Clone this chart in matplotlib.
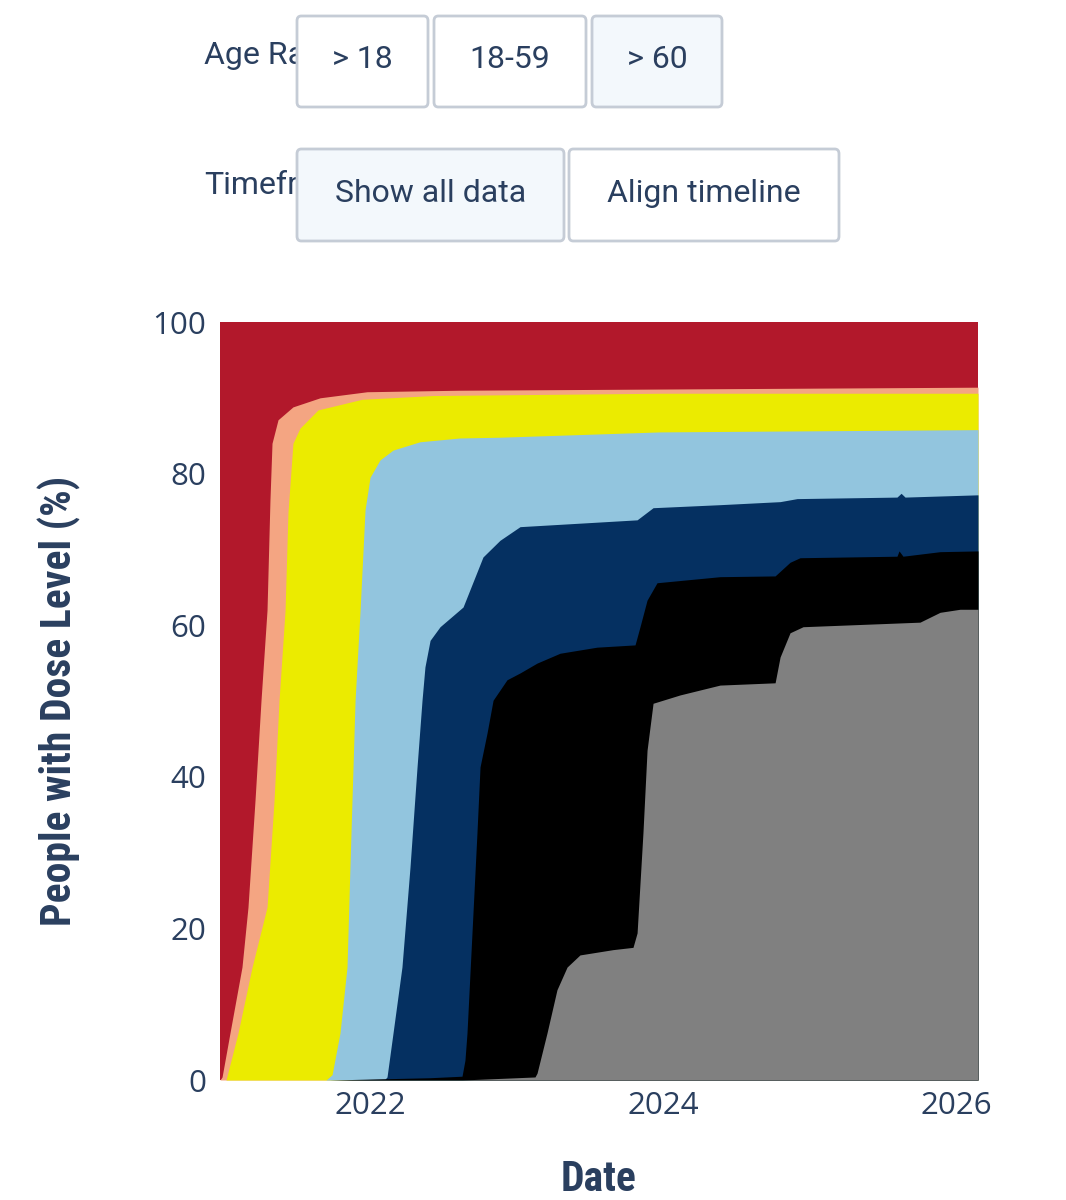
import matplotlib
matplotlib.use("Agg")
import matplotlib.pyplot as plt
from matplotlib.patches import FancyBboxPatch, Rectangle
from matplotlib import font_manager as fm
import numpy as np

# ---------------- data (x in decimal years, y in %) ----------------
x_start, x_end = 2020.976, 2026.15

dose1_x = [2020.976, 2020.990, 2021.044, 2021.126, 2021.167, 2021.215, 2021.256, 2021.297,
           2021.317, 2021.331, 2021.372, 2021.474, 2021.659, 2021.980, 2022.614, 2026.150]
dose1_y = [0, 0.4, 6.2, 14.9, 22.8, 36.9, 50.1, 62.0, 76.5, 84.0, 87.1, 88.8, 90.0, 90.8, 91.0, 91.4]

dose2_x = [2021.017, 2021.099, 2021.195, 2021.297, 2021.345, 2021.379, 2021.420, 2021.440,
           2021.474, 2021.522, 2021.645, 2021.945, 2022.430, 2023.980, 2026.150]
dose2_y = [0, 6.2, 14.9, 22.8, 36.9, 50.1, 61.9, 74.9, 84.0, 86.0, 88.4, 89.8, 90.3, 90.6, 90.6]

dose3_x = [2021.700, 2021.741, 2021.795, 2021.843, 2021.863, 2021.898, 2021.932, 2021.966,
           2022.000, 2022.068, 2022.157, 2022.341, 2022.614, 2022.887, 2023.980, 2026.150]
dose3_y = [0, 0.7, 6.2, 14.9, 28.1, 50.1, 61.9, 75.2, 79.5, 81.8, 83.1, 84.2, 84.7, 84.8, 85.5, 85.8]

dose4_x = [2021.727, 2022.102, 2022.116, 2022.157, 2022.218, 2022.273, 2022.321, 2022.355,
           2022.375, 2022.410, 2022.478, 2022.635, 2022.771, 2022.887, 2023.024, 2023.823,
           2023.932, 2024.389, 2024.799, 2024.915, 2025.597, 2025.625, 2025.652, 2026.150]
dose4_y = [0, 0.1, 0.4, 6.2, 14.9, 28.1, 41.3, 50.1, 54.5, 58.0, 59.8, 62.4, 69.0, 71.2, 73.0,
           73.9, 75.5, 75.9, 76.3, 76.7, 76.9, 77.4, 76.9, 77.2]

dose5_x = [2021.727, 2022.410, 2022.628, 2022.648, 2022.662, 2022.696, 2022.730, 2022.751,
           2022.799, 2022.840, 2022.935, 2023.024, 2023.140, 2023.297, 2023.549, 2023.809,
           2023.843, 2023.891, 2023.959, 2024.389, 2024.765, 2024.867, 2024.935, 2025.597,
           2025.611, 2025.638, 2025.891, 2026.150]
dose5_y = [0, 0.3, 0.5, 2.6, 6.2, 19.4, 32.6, 41.3, 45.8, 50.1, 52.8, 53.7, 55.0, 56.3, 57.1,
           57.4, 59.8, 63.3, 65.6, 66.4, 66.5, 68.3, 68.9, 69.1, 69.8, 69.1, 69.7, 69.8]

dose6_x = [2022.628, 2023.126, 2023.140, 2023.208, 2023.276, 2023.345, 2023.433, 2023.659,
           2023.795, 2023.823, 2023.863, 2023.891, 2023.932, 2024.116, 2024.389, 2024.765,
           2024.799, 2024.867, 2024.956, 2025.754, 2025.891, 2026.027, 2026.150]
dose6_y = [0, 0.4, 0.9, 6.2, 11.9, 14.9, 16.5, 17.2, 17.5, 19.4, 32.6, 43.5, 49.7, 50.8, 52.1,
           52.4, 55.8, 59.0, 59.8, 60.4, 61.7, 62.1, 62.1]

layers = [
    (dose1_x, dose1_y, "#f4a582"),
    (dose2_x, dose2_y, "#ebeb00"),
    (dose3_x, dose3_y, "#92c5de"),
    (dose4_x, dose4_y, "#053061"),
    (dose5_x, dose5_y, "#000000"),
    (dose6_x, dose6_y, "#808080"),
]
unvacc_color = "#b2182b"

x_ticks = [2022, 2024, 2026]
x_tick_labels = ["2022", "2024", "2026"]
y_ticks = [0, 20, 40, 60, 80, 100]

age_buttons = ["> 18", "18-59", "> 60"]
time_buttons = ["Show all data", "Align timeline"]

# ---------------- fonts ----------------
def find_font(cands):
    files = fm.findSystemFonts()
    for c in cands:
        for f in files:
            if c.lower() in f.lower().replace(" ", ""):
                return f
    return None

cond_bold = find_font(["RobotoCondensed-Bold", "LiberationSansNarrow-Bold.ttf", "DejaVuSansCondensed-Bold.ttf"])
title_fp = fm.FontProperties(fname=cond_bold, size=30) if cond_bold else fm.FontProperties(family="Roboto", weight="bold", size=25)

text_color = "#2a3f5f"

# ---------------- figure ----------------
W, H = 1066, 1200
fig = plt.figure(figsize=(W / 100, H / 100), dpi=100)
fig.patch.set_facecolor("white")

ax = fig.add_axes([220 / W, 1 - 1080 / H, 758 / W, 758 / H])
ax.fill_between([x_start, x_end], 0, 100, color=unvacc_color, lw=0)
for xs, ys, col in layers:
    ax.fill_between(xs, 0, ys, color=col, lw=0)

ax.set_xlim(x_start, x_end)
ax.set_ylim(0, 100)
for s in ax.spines.values():
    s.set_visible(False)
ax.set_xticks(x_ticks)
ax.set_xticklabels(x_tick_labels)
ax.set_yticks(y_ticks)
ax.tick_params(axis="y", length=0, labelsize=22.5, labelcolor=text_color, pad=10)
ax.tick_params(axis="x", length=0, labelsize=22.5, labelcolor=text_color, pad=8)
for lab in ax.get_xticklabels() + ax.get_yticklabels():
    lab.set_fontfamily("Open Sans")

ax.set_ylabel("People with Dose Level (%)", fontproperties=title_fp, color=text_color)
ax.yaxis.set_label_coords((81 - 220) / 758, 0.5)
ax.set_xlabel("Date", fontproperties=title_fp, color=text_color)
ax.xaxis.set_label_coords(0.5, (1080 - 1159) / 758)

# ---------------- controls ----------------
def fx(px):
    return px / W

def fy(py):
    return 1 - py / H

# labels are partly hidden behind the buttons, as in the reference
clip_rect = Rectangle((0, 0), fx(297), 1, transform=fig.transFigure, visible=False)
fig.patches.append(clip_rect)
for ly, txt in [(55, "Age Range"), (186, "Timeframe")]:
    t = fig.text(fx(204), fy(ly), txt, fontsize=23, family="Roboto", color=text_color,
                 va="center", ha="left", zorder=1)
    t.set_clip_path(clip_rect)

def button(x0, y0, x1, y1, label, selected):
    fc = "#f3f8fc" if selected else "white"
    p = FancyBboxPatch((fx(x0), fy(y1)), fx(x1) - fx(x0), fy(y0) - fy(y1),
                       boxstyle="round,pad=0,rounding_size=0.004",
                       transform=fig.transFigure, facecolor=fc, edgecolor="#c5ccd6",
                       linewidth=2, zorder=2)
    fig.patches.append(p)
    fig.text(fx((x0 + x1) / 2), fy((y0 + y1) / 2 - 2), label, fontsize=23, family="Roboto",
             color=text_color, ha="center", va="center", zorder=3)

age_boxes = [(297, 16, 428, 107), (434, 16, 586, 107), (592, 16, 722, 107)]
for (b, lab, sel) in zip(age_boxes, age_buttons, [False, False, True]):
    button(*b, lab, sel)
time_boxes = [(297, 149, 564, 241), (569, 149, 839, 241)]
for (b, lab, sel) in zip(time_boxes, time_buttons, [True, False]):
    button(*b, lab, sel)

fig.savefig("out.png", dpi=100, facecolor="white")
